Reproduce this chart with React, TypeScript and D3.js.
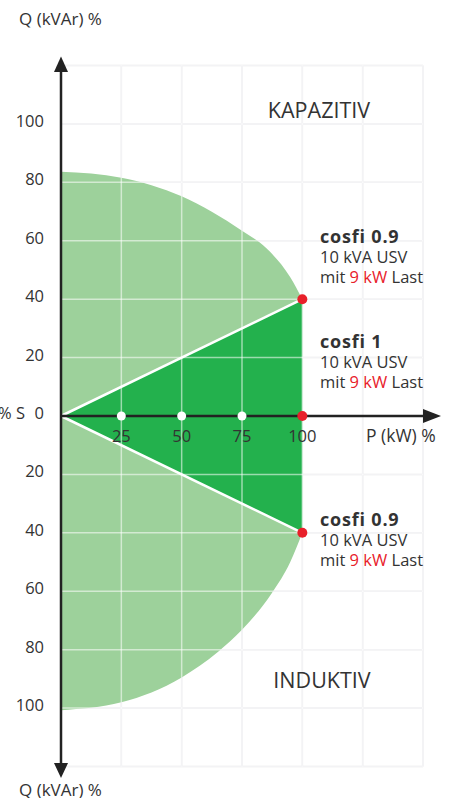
import React from "react";
import * as d3 from "d3";

// ---- data ----
const P_TICKS = [25, 50, 75, 100];
const P_GRID = [25, 50, 75, 100, 125, 150];
const Q_GRID = [-120, -100, -80, -60, -40, -20, 20, 40, 60, 80, 100, 120];
const Q_TICKS = [100, 80, 60, 40, 20, 0, -20, -40, -60, -80, -100];
// capacitive (upper) boundary of the operating area: [P %, Q %]
const CAP_ARC: [number, number][] = [
  [0, 83.6], [25, 81.6], [50, 75.2], [75, 63.4], [85, 57.5], [95, 47.5], [100, 40],
];
// inductive (lower) boundary
const IND_ARC: [number, number][] = [
  [0, -100.7], [25, -98], [50, -89.5], [65, -80.8], [75, -73.2], [87.4, -60.6], [95, -50], [100, -40],
];
// cosfi triangle
const TRIANGLE: [number, number][] = [[0, 0], [100, 40], [100, -40]];
const RED_POINTS: [number, number][] = [[100, 40], [100, 0], [100, -40]];
const WHITE_POINTS = [25, 50, 75];
const NOTES = [
  { title: "cosfi 0.9", line1: "10 kVA USV", pre: "mit ", red: "9 kW", post: " Last" },
  { title: "cosfi 1", line1: "10 kVA USV", pre: "mit ", red: "9 kW", post: " Last" },
  { title: "cosfi 0.9", line1: "10 kVA USV", pre: "mit ", red: "9 kW", post: " Last" },
];

const W = 449;
const H = 798;
const FONT = "'Open Sans', 'Noto Sans', sans-serif";
const TXT = "#333333";
const RED = "#e8202a";
const LIGHT = "#9dd19b";
const DARK = "#23b14d";
const GRID = "#e4e4e8";

export default function App() {
  const x = d3.scaleLinear().domain([0, 150]).range([61, 423]);
  const y = d3.scaleLinear().domain([-120, 120]).range([766.5, 65.5]);

  const area = d3
    .area<[number, number]>()
    .x((d) => x(d[0]))
    .y0(y(0))
    .y1((d) => y(d[1]))
    .curve(d3.curveMonotoneX);

  const tri = d3
    .line<[number, number]>()
    .x((d) => x(d[0]))
    .y((d) => y(d[1]));

  const gridLines = (stroke: string, opacity: number) => (
    <g stroke={stroke} strokeOpacity={opacity} strokeWidth={1.5}>
      {P_GRID.map((p) => (
        <line key={"p" + p} x1={x(p)} x2={x(p)} y1={y(120)} y2={y(-120)} />
      ))}
      {Q_GRID.map((q) => (
        <line key={"q" + q} x1={x(0)} x2={x(150)} y1={y(q)} y2={y(q)} />
      ))}
    </g>
  );

  const x0 = x(0);
  const y0 = y(0);
  const noteBase = [243, 348, 526];

  return (
    <svg
      width={W}
      height={H}
      style={{ position: "absolute", left: 0, top: 0, background: "#fff" }}
      fontFamily={FONT}
    >
      {gridLines(GRID, 1)}

      {/* operating area */}
      <path d={area(CAP_ARC) || ""} fill={LIGHT} />
      <path d={area(IND_ARC) || ""} fill={LIGHT} />
      <path d={(tri(TRIANGLE) || "") + "Z"} fill={DARK} />

      {gridLines("#ffffff", 0.55)}

      {/* white triangle edges */}
      <g stroke="#ffffff" strokeWidth={2.5}>
        <line x1={x(0)} y1={y(0)} x2={x(100)} y2={y(40)} />
        <line x1={x(0)} y1={y(0)} x2={x(100)} y2={y(-40)} />
      </g>

      {/* axes */}
      <g fill="#222" stroke="#222">
        <line x1={x0} x2={x0} y1={62} y2={772} strokeWidth={2.5} />
        <line x1={x0} x2={428} y1={y0} y2={y0} strokeWidth={2.5} />
        <path d={`M${x0},${56.5} L${x0 - 7},${72} L${x0 + 7},${72} Z`} stroke="none" />
        <path d={`M${x0},${778} L${x0 - 7},${763} L${x0 + 7},${763} Z`} stroke="none" />
        <path d={`M${441},${y0} L${423},${y0 - 7} L${423},${y0 + 7} Z`} stroke="none" />
      </g>

      {/* points */}
      {WHITE_POINTS.map((p) => (
        <circle key={"w" + p} cx={x(p)} cy={y(0)} r={4.5} fill="#fff" />
      ))}
      {RED_POINTS.map((d, i) => (
        <circle key={"r" + i} cx={x(d[0])} cy={y(d[1])} r={5} fill={RED} />
      ))}

      {/* y tick labels */}
      <g fontSize={16.5} fill={TXT} textAnchor="end">
        {Q_TICKS.map((q) => (
          <text key={"t" + q} x={44} y={y(q) + 3}>
            {Math.abs(q)}
          </text>
        ))}
        <text x={25} y={y(0) + 3}>% S</text>
      </g>

      {/* x tick labels */}
      <g fontSize={16.5} fill={TXT} textAnchor="middle">
        {P_TICKS.map((p) => (
          <text key={"x" + p} x={x(p)} y={442}>
            {p}
          </text>
        ))}
      </g>
      <text x={366} y={442} fontSize={17.5} fill={TXT}>P (kW) %</text>

      {/* axis titles */}
      <text x={19} y={25} fontSize={17} fill={TXT}>Q (kVAr) %</text>
      <text x={19} y={796} fontSize={17} fill={TXT}>Q (kVAr) %</text>

      {/* region labels */}
      <text x={319} y={118} fontSize={21.5} fill={TXT} textAnchor="middle">KAPAZITIV</text>
      <text x={322} y={688} fontSize={21.5} fill={TXT} textAnchor="middle">INDUKTIV</text>

      {/* notes */}
      {NOTES.map((n, i) => {
        const base = noteBase[i];
        return (
          <g key={"n" + i} fill={TXT}>
            <text x={320} y={base} fontSize={18} fontWeight={700} letterSpacing={0.8}>
              {n.title}
            </text>
            <text x={320} y={base + 20} fontSize={16.5}>{n.line1}</text>
            <text x={320} y={base + 40} fontSize={16.5}>
              {n.pre}
              <tspan fill={RED}>{n.red}</tspan>
              {n.post}
            </text>
          </g>
        );
      })}
    </svg>
  );
}
